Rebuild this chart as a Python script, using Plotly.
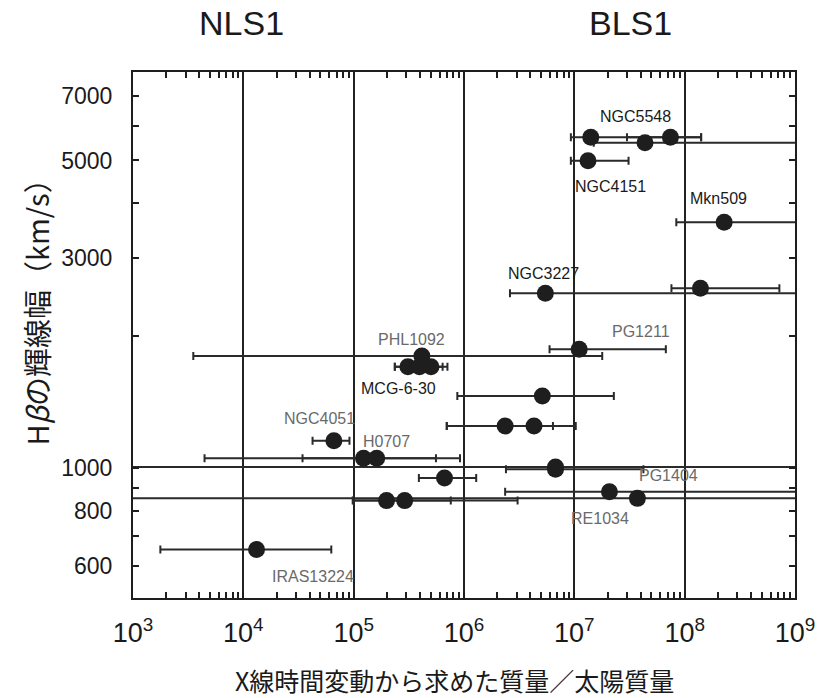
import plotly.graph_objects as go
import numpy as np

# ---- data (black hole mass from X-ray variability, Hbeta FWHM) ----
mass = [1.41e7, 7.43e7, 4.37e7, 1.33e7, 2.28e8, 5.46e6, 1.39e8, 1.107e7,
        4.15e5, 3.10e5, 3.95e5, 5.02e5, 5.13e6, 2.36e6, 4.31e6, 6.62e4,
        1.229e5, 1.617e5, 6.75e6, 6.75e6, 6.66e5, 2.08e7, 3.73e7, 1.986e5,
        2.90e5, 1.318e4]
fwhm = [5643, 5643, 5487, 4993, 3617, 2495, 2561, 1861,
        1797, 1699, 1699, 1699, 1458, 1246, 1246, 1153,
        1052, 1052, 993, 1005, 949, 883, 853, 843,
        843, 653]
mass_lo = [9.3e6, 3.0e7, 1.5e7, 9.3e6, 8.4e7, 2.61e6, 7.59e7, 5.96e6,
           3.52e3, 2.36e5, 3.2e5, 2.36e5, 8.7e5, 6.98e5, 6.98e5, 4.24e4,
           4.45e3, 3.44e4, 2.40e6, 1e2, 3.90e5, 2.36e6, 1e2, 9.8e4,
           1.0e5, 1.77e3]
mass_hi = [1.41e8, 1.41e8, 5e9, 3.10e7, 5e9, 5e9, 7.22e8, 6.75e7,
           1.79e7, 6.40e5, 4.9e5, 7.08e5, 2.28e7, 6.40e6, 1.03e7, 9.16e4,
           5.57e5, 9.2e5, 4.23e7, 5e9, 1.29e6, 5e9, 5e9, 7.59e5,
           3.06e6, 6.27e4]

# object labels: text, log10(mass), log10(width), dark?
label_text = ["NGC5548", "NGC4151", "Mkn509", "NGC3227", "PG1211", "PHL1092",
              "MCG-6-30", "NGC4051", "H0707", "PG1404", "RE1034", "IRAS13224"]
label_logx = [7.554, 7.330, 8.309, 6.718, 7.607, 5.522,
              5.402, 4.692, 5.298, 7.854, 7.231, 4.635]
label_logy = [3.800, 3.639, 3.613, 3.443, 3.310, 3.293,
              3.181, 3.113, 3.060, 2.984, 2.886, 2.753]
label_dark = [True, True, True, True, False, False,
              True, False, False, False, False, False]

x_tickvals = [1e3, 1e4, 1e5, 1e6, 1e7, 1e8, 1e9]
x_ticktext = ["10<sup>3</sup>", "10<sup>4</sup>", "10<sup>5</sup>", "10<sup>6</sup>",
              "10<sup>7</sup>", "10<sup>8</sup>", "10<sup>9</sup>"]
y_tickvals = [600, 800, 1000, 3000, 5000, 7000]
y_ticktext = ["600", "800", "1000", "3000", "5000", "7000"]
y_minor_tickvals = [700, 900, 2000, 4000, 6000]

group_titles = ["NLS1", "BLS1"]

mass_a = np.array(mass)
plus = np.array(mass_hi) - mass_a
minus = mass_a - np.array(mass_lo)

LAT = "Liberation Sans, Arial, sans-serif"
CJK = "Noto Sans CJK JP, sans-serif"
INK = "#1e1e1e"

fig = go.Figure()
fig.add_trace(go.Scatter(
    x=mass, y=fwhm, mode="markers",
    marker=dict(size=17, color=INK, line=dict(width=0)),
    error_x=dict(type="data", symmetric=False, array=plus, arrayminus=minus,
                 color="#2a2a2a", thickness=2, width=4),
    showlegend=False, hoverinfo="x+y",
))

annotations = []
for t, lx, ly, dk in zip(label_text, label_logx, label_logy, label_dark):
    annotations.append(dict(
        x=lx, y=ly, xref="x", yref="y", text=t, showarrow=False,
        font=dict(family=LAT, size=16, color="#1a1a1a" if dk else "#6a6a6a"),
        xanchor="center", yanchor="middle"))

for t, px in zip(group_titles, [0.1644, 0.752]):
    annotations.append(dict(
        x=px, y=1.093, xref="paper", yref="paper", text=t, showarrow=False,
        font=dict(family=LAT, size=34, color="#1a1a1a"),
        xanchor="center", yanchor="middle"))

annotations.append(dict(
    x=-0.1465, y=0.556, xref="paper", yref="paper",
    text="H<i>β</i>の輝線幅（km/s）", showarrow=False, textangle=-90,
    font=dict(family=CJK, size=29, color="#1a1a1a"),
    xanchor="center", yanchor="middle"))
annotations.append(dict(
    x=0.486, y=-0.155, xref="paper", yref="paper",
    text="X線時間変動から求めた質量／太陽質量", showarrow=False,
    font=dict(family=CJK, size=25, color="#1a1a1a"),
    xanchor="center", yanchor="middle"))

# plot area at x 133..802, y 72..598 of the 827x698 page
fig.update_layout(
    width=827, height=698,
    margin=dict(l=133, r=25, t=72, b=100),
    paper_bgcolor="white", plot_bgcolor="white",
    annotations=annotations,
    xaxis=dict(
        type="log", range=[3, 9],
        tickvals=x_tickvals, ticktext=x_ticktext,
        tickfont=dict(family=LAT, size=27, color="#1a1a1a"),
        ticks="inside", ticklen=6, tickwidth=1.5, tickcolor=INK,
        ticklabelstandoff=10,
        showgrid=True, gridcolor="#222222", gridwidth=1.5,
        showline=True, linecolor=INK, linewidth=2, mirror="allticks",
        zeroline=False,
        minor=dict(ticks="inside", ticklen=6, tickwidth=1.5, tickcolor=INK,
                   dtick="D1", showgrid=False),
    ),
    yaxis=dict(
        type="log", range=[2.7045, 3.9],
        tickvals=y_tickvals, ticktext=y_ticktext,
        tickfont=dict(family=LAT, size=23, color="#1a1a1a"),
        ticks="inside", ticklen=6, tickwidth=1.5, tickcolor=INK,
        ticklabelstandoff=14,
        showgrid=False,
        showline=True, linecolor=INK, linewidth=2, mirror="allticks",
        zeroline=False,
        minor=dict(ticks="inside", ticklen=6, tickwidth=1.5, tickcolor=INK,
                   tickmode="array", tickvals=y_minor_tickvals, showgrid=False),
    ),
)

fig.write_html(
    "out.html",
    config={"displayModeBar": False},
    post_script="document.body.style.margin='0';document.body.style.overflow='hidden';",
)
